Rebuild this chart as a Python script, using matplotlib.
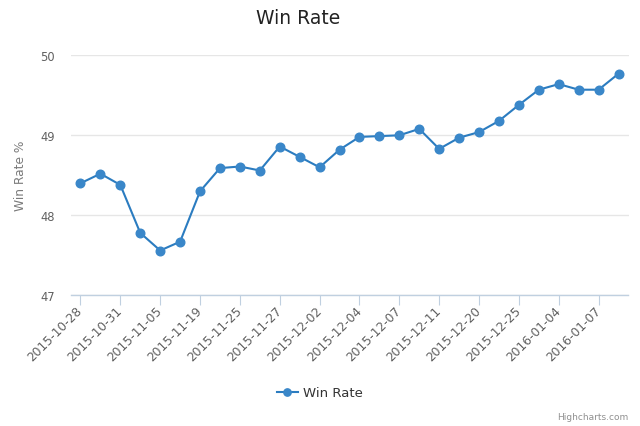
import numpy as np
import matplotlib
matplotlib.use("Agg")
import matplotlib.pyplot as plt

# win rate per day (28 points), only every second day is labelled on the axis
win_rate = [48.39, 48.51, 48.37, 47.77, 47.55, 47.66, 48.29, 48.58, 48.60, 48.55,
            48.85, 48.72, 48.59, 48.81, 48.97, 48.98, 48.99, 49.07, 48.82, 48.96,
            49.03, 49.17, 49.37, 49.56, 49.63, 49.56, 49.56, 49.76]
tick_labels = ["2015-10-28", "2015-10-31", "2015-11-05", "2015-11-19", "2015-11-25",
               "2015-11-27", "2015-12-02", "2015-12-04", "2015-12-07", "2015-12-11",
               "2015-12-20", "2015-12-25", "2016-01-04", "2016-01-07"]
y_ticks = [47, 48, 49, 50]

W, H = 640, 427
fig = plt.figure(figsize=(W / 100, H / 100), dpi=100)
ax = fig.add_axes([70.5 / W, (H - 295.5) / H, 558 / W, 240 / H])

x = np.arange(len(win_rate))
ax.plot(x, win_rate, color="#2b7cc0", lw=1.5, marker="o", ms=6.2,
        mfc="#3a87c9", mec="#3a87c9", zorder=3, label="Win Rate")

ax.set_xlim(-0.5, len(win_rate) - 0.5)
ax.set_ylim(47, 50)
ax.set_yticks(y_ticks)
ax.set_yticklabels([str(v) for v in y_ticks])
ax.set_xticks(x[::2])
ax.set_xticklabels(tick_labels, rotation=45, ha="right", va="center",
                   rotation_mode="anchor")

ax.grid(axis="y", color="#e6e6e6", lw=1)
ax.set_axisbelow(True)
for s in ["top", "right", "left"]:
    ax.spines[s].set_visible(False)
ax.spines["bottom"].set_color("#c0d0e0")
ax.spines["bottom"].set_linewidth(1)
ax.tick_params(axis="y", length=0, pad=11, labelsize=8.3, labelcolor="#606060")
ax.tick_params(axis="x", length=7, width=0.8, color="#c0d0e0", pad=3,
               labelsize=8.8, labelcolor="#606060")

ax.set_ylabel("Win Rate %", color="#7a7a7a", fontsize=8.8)
ax.yaxis.set_label_coords((27 - 70.5) / 558, 0.5)

fig.text(298 / W, 1 - 18 / H, "Win Rate", ha="center", va="center",
         fontsize=13.5, color="#222222")

leg = fig.legend(loc="center", bbox_to_anchor=(320 / W, 1 - 394 / H), frameon=False,
                 fontsize=9.5, handlelength=1.6, handletextpad=0.4, markerscale=0.85)
for t in leg.get_texts():
    t.set_color("#333333")

fig.text(628 / W, 1 - 418 / H, "Highcharts.com", ha="right", va="center",
         fontsize=6.5, color="#909090")

fig.savefig("out.png", dpi=100)
